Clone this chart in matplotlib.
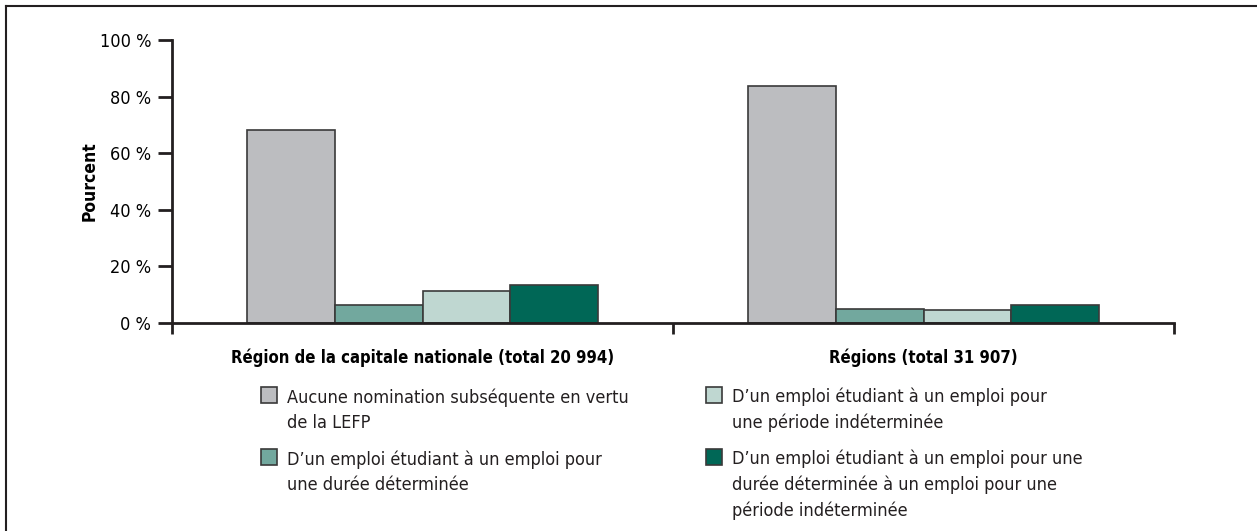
import numpy as np
import matplotlib
matplotlib.use("Agg")
import matplotlib.pyplot as plt
from matplotlib.patches import Rectangle
from matplotlib.lines import Line2D

plt.rcParams['font.family'] = ['Liberation Sans Narrow', 'DejaVu Sans']
plt.rcParams['font.stretch'] = 'condensed'

# data
groups = ["Région de la capitale nationale (total 20 994)", "Régions (total 31 907)"]
series = [
    "Aucune nomination subséquente en vertu\nde la LEFP",
    "D\u2019un emploi étudiant à un emploi pour\nune durée déterminée",
    "D\u2019un emploi étudiant à un emploi pour\nune période indéterminée",
    "D\u2019un emploi étudiant à un emploi pour une\ndurée déterminée à un emploi pour une\npériode indéterminée",
]
values = {
    series[0]: [68.3, 83.6],
    series[1]: [6.5, 5.1],
    series[2]: [11.4, 4.5],
    series[3]: [13.3, 6.3],
}
colors = ["#bcbdc0", "#72a89e", "#bfd7d1", "#006756"]
yticks = [0, 20, 40, 60, 80, 100]

W, H = 1257, 531
fig = plt.figure(figsize=(W / 100, H / 100), dpi=100)

def fx(px):
    return px / W

def fy(py):
    return 1 - py / H

ax = fig.add_axes([fx(172), fy(323), fx(1174 - 172), (323 - 40) / H])

bar_w = 0.1747
centers = np.arange(len(groups)) + 0.5
for i, name in enumerate(series):
    offs = (i - 1.5) * bar_w
    ax.bar(centers + offs, values[name], width=bar_w, color=colors[i],
           edgecolor="#3a3a3a", linewidth=1.2, zorder=2)

ax.set_xlim(0, 2)
ax.set_ylim(0, 100)
ax.set_yticks(yticks)
ax.set_yticklabels([f"{t} %" for t in yticks], fontsize=13)
ax.set_xticks([0, 1, 2])
ax.set_xticklabels([])
ax.tick_params(axis='y', direction='out', length=10, width=2, pad=5, color="#231f20")
ax.tick_params(axis='x', direction='out', length=8, width=2, color="#231f20")
for s in ["top", "right"]:
    ax.spines[s].set_visible(False)
for s in ["left", "bottom"]:
    ax.spines[s].set_linewidth(2)
    ax.spines[s].set_color("#231f20")
    ax.spines[s].set_zorder(3)

ax.set_ylabel("Pourcent", fontsize=12.5, fontweight="bold", labelpad=1)

trans = ax.get_xaxis_transform()
for c, g in zip(centers, groups):
    ax.text(c, -0.124, g, transform=trans, ha="center", va="center",
            fontsize=12, fontweight="bold")

# legend drawn by hand, two columns
line_px = 25.5
legend_pos = [(261, 403), (261, 465), (706, 403), (706, 465)]
for (sx, base), name, col in zip(legend_pos, series, colors):
    fig.add_artist(Rectangle((fx(sx), fy(base)), 16 / W, 16 / H, transform=fig.transFigure,
                             facecolor=col, edgecolor="#3a3a3a", linewidth=1.2))
    n = name.count("\n")
    fig.text(fx(sx + 26), fy(base + n * line_px), name, ha="left", va="baseline",
             fontsize=13, linespacing=1.52, color="#231f20")

# frame at left and top
fig.add_artist(Line2D([fx(6), fx(6)], [fy(6), 0], transform=fig.transFigure, color="#231f20", linewidth=1.5))
fig.add_artist(Line2D([fx(6), 1], [fy(6), fy(6)], transform=fig.transFigure, color="#231f20", linewidth=1.5))

fig.savefig("out.png", dpi=100)
